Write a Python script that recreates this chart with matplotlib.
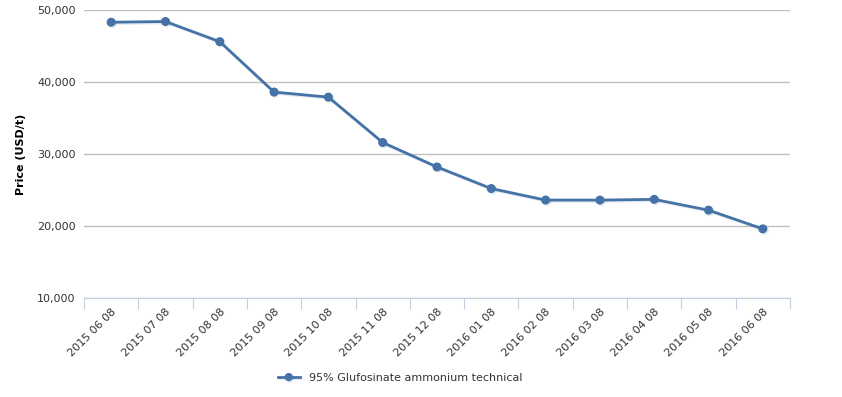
import matplotlib.pyplot as plt
import matplotlib.patheffects as pe
from matplotlib.ticker import FuncFormatter, FixedLocator

dates = ['2015 06 08', '2015 07 08', '2015 08 08', '2015 09 08', '2015 10 08',
         '2015 11 08', '2015 12 08', '2016 01 08', '2016 02 08', '2016 03 08',
         '2016 04 08', '2016 05 08', '2016 06 08']
prices = [48300, 48400, 45600, 38600, 37900, 31600, 28200,
          25200, 23600, 23600, 23700, 22200, 19600]
series_name = '95% Glufosinate ammonium technical'

line_color = '#4572A7'

fig = plt.figure(figsize=(8.42, 3.97), dpi=100)
ax = fig.add_axes([84 / 842, 1 - 298 / 397, (790 - 84) / 842, 288 / 397])

x = range(len(dates))
ax.plot(x, prices, color=line_color, lw=2, marker='o', ms=5.5,
        label=series_name, zorder=3,
        path_effects=[pe.SimpleLineShadow(offset=(1, -1), shadow_color='#4572A7', alpha=0.15),
                      pe.Normal()])

ax.set_xlim(-0.5, len(dates) - 0.5)
ax.set_ylim(10000, 50000)
ax.set_yticks([10000, 20000, 30000, 40000, 50000])
ax.yaxis.set_major_formatter(FuncFormatter(lambda v, p: f'{int(v):,}'))
ax.grid(axis='y', color='#C0C0C0', lw=1)
ax.set_axisbelow(True)

# category ticks sit between points, labels under each point
ax.xaxis.set_major_locator(FixedLocator([i - 0.5 for i in range(len(dates) + 1)]))
ax.xaxis.set_major_formatter(FuncFormatter(lambda v, p: ''))
ax.tick_params(axis='x', which='major', length=8, color='#C0D0E0', direction='out')
ax.set_xticks(list(x), minor=True)
ax.set_xticklabels(dates, minor=True, rotation=45, ha='right', rotation_mode='anchor',
                   fontsize=8, color='#333333')
ax.tick_params(axis='x', which='minor', length=0, pad=6)
ax.tick_params(axis='y', length=0, labelsize=8, labelcolor='#333333', pad=6)

for s in ['top', 'right', 'left']:
    ax.spines[s].set_visible(False)
ax.spines['bottom'].set_color('#C0D0E0')

ax.set_ylabel('Price (USD/t)', fontsize=8, fontweight='bold', color='#000000', labelpad=8)

fig.legend(loc='center', bbox_to_anchor=(400 / 842, 1 - 378 / 397), frameon=False,
           fontsize=8, labelcolor='#333333', handlelength=2, markerscale=0.9)

fig.savefig('out.png', dpi=100, facecolor='white')
